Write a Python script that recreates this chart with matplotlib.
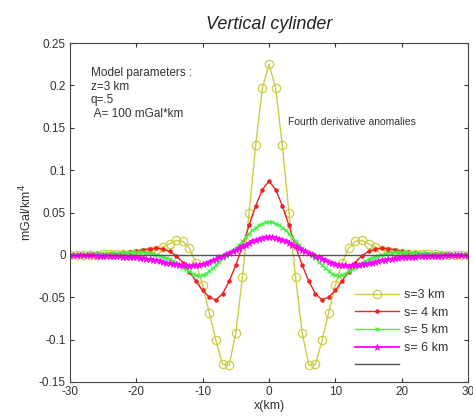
import numpy as np
import matplotlib
matplotlib.use("Agg")
import matplotlib.pyplot as plt

plt.rcParams['font.family'] = ['Liberation Sans', 'DejaVu Sans']

# sample positions (km)
x_coarse = np.arange(-30, 31, 1.0)
x_fine = np.arange(-30, 30.01, 0.5)

s3_values = [0.0001, 0.0002, 0.0002, 0.0003, 0.0004, 0.0005, 0.0006, 0.0008, 0.001, 0.0015,
             0.002, 0.003, 0.004, 0.006, 0.009, 0.013, 0.017, 0.016, 0.008, -0.010,
             -0.036, -0.068, -0.101, -0.129, -0.130, -0.092, -0.026, 0.050, 0.130, 0.197,
             0.225,
             0.197, 0.130, 0.050, -0.026, -0.092, -0.130, -0.129, -0.101, -0.068, -0.036,
             -0.010, 0.008, 0.016, 0.017, 0.013, 0.009, 0.006, 0.004, 0.003, 0.002,
             0.0015, 0.001, 0.0008, 0.0006, 0.0005, 0.0004, 0.0003, 0.0002, 0.0002, 0.0001]

s4_values = [0.0, 0.0001, 0.0002, 0.0003, 0.0005, 0.0008, 0.001, 0.0015, 0.002, 0.003,
             0.004, 0.006, 0.007, 0.008, 0.007, 0.004, -0.001, -0.009, -0.020, -0.031,
             -0.042, -0.050, -0.053, -0.046, -0.031, -0.012, 0.010, 0.035, 0.058, 0.077,
             0.087,
             0.077, 0.058, 0.035, 0.010, -0.012, -0.031, -0.046, -0.053, -0.050, -0.042,
             -0.031, -0.020, -0.009, -0.001, 0.004, 0.007, 0.008, 0.007, 0.006, 0.004,
             0.003, 0.002, 0.0015, 0.001, 0.0008, 0.0005, 0.0003, 0.0002, 0.0001, 0.0]

s5_values = [0.0002, 0.0003, 0.0003, 0.0004, 0.0004, 0.0005, 0.0006, 0.0007, 0.0008, 0.0009,
             0.001, 0.0012, 0.0015, 0.0017, 0.002, 0.002, 0.002, 0.0025, 0.003, 0.003,
             0.003, 0.003, 0.003, 0.0025, 0.002, 0.001, 0.000, -0.001, -0.002, -0.0035,
             -0.005, -0.0075, -0.010, -0.0125, -0.015, -0.017, -0.019, -0.022, -0.024, -0.0245,
             -0.024, -0.022, -0.019, -0.016, -0.012, -0.008, -0.004, -0.001, 0.002, 0.005,
             0.008, 0.012, 0.016, 0.021, 0.025, 0.029, 0.032, 0.035, 0.037, 0.0385,
             0.039,
             0.0385, 0.037, 0.035, 0.032, 0.029, 0.025, 0.021, 0.016, 0.012, 0.008,
             0.005, 0.002, -0.001, -0.004, -0.008, -0.012, -0.016, -0.019, -0.022, -0.024,
             -0.0245, -0.024, -0.022, -0.019, -0.017, -0.015, -0.0125, -0.010, -0.0075, -0.005,
             -0.0035, -0.002, -0.001, 0.000, 0.001, 0.002, 0.0025, 0.003, 0.003, 0.003,
             0.003, 0.003, 0.0025, 0.002, 0.002, 0.002, 0.0017, 0.0015, 0.0012, 0.001,
             0.0009, 0.0008, 0.0007, 0.0006, 0.0005, 0.0004, 0.0004, 0.0003, 0.0003, 0.0002]

s6_values = [-0.0003, -0.0004, -0.0004, -0.0005, -0.0005, -0.0006, -0.0006, -0.0007, -0.0008, -0.0009,
             -0.001, -0.0011, -0.0012, -0.0013, -0.0015, -0.0018, -0.002, -0.0022, -0.0025, -0.0028,
             -0.003, -0.0035, -0.004, -0.0045, -0.005, -0.0055, -0.006, -0.007, -0.008, -0.009,
             -0.010, -0.0105, -0.011, -0.0115, -0.012, -0.0125, -0.013, -0.0125, -0.012, -0.0115,
             -0.011, -0.0095, -0.008, -0.0065, -0.005, -0.003, -0.001, 0.0005, 0.002, 0.004,
             0.006, 0.008, 0.010, 0.012, 0.014, 0.016, 0.018, 0.019, 0.020, 0.0207,
             0.021,
             0.0207, 0.020, 0.019, 0.018, 0.016, 0.014, 0.012, 0.010, 0.008, 0.006,
             0.004, 0.002, 0.0005, -0.001, -0.003, -0.005, -0.0065, -0.008, -0.0095, -0.011,
             -0.0115, -0.012, -0.0125, -0.013, -0.0125, -0.012, -0.0115, -0.011, -0.0105, -0.010,
             -0.009, -0.008, -0.007, -0.006, -0.0055, -0.005, -0.0045, -0.004, -0.0035, -0.003,
             -0.0028, -0.0025, -0.0022, -0.002, -0.0018, -0.0015, -0.0013, -0.0012, -0.0011, -0.001,
             -0.0009, -0.0008, -0.0007, -0.0006, -0.0006, -0.0005, -0.0005, -0.0004, -0.0004, -0.0003]

baseline_x = [-30, 30]
baseline_y = [0, 0]

labels = ['s=3 km', 's= 4 km', 's= 5 km', 's= 6 km', ' ']
x_ticks = [-30, -20, -10, 0, 10, 20, 30]
x_ticklabels = ['-30', '-20', '-10', '0', '10', '20', '30']
y_ticks = [-0.15, -0.1, -0.05, 0, 0.05, 0.1, 0.15, 0.2, 0.25]
y_ticklabels = ['-0.15', '-0.1', '-0.05', '0', '0.05', '0.1', '0.15', '0.2', '0.25']

fig = plt.figure(figsize=(4.73, 4.16), dpi=100)
ax = fig.add_axes([70/473, 34/416, 398/473, 339/416])

c_y = '#cccc44'
c_r = '#ee2222'
c_g = '#44ee44'
c_m = '#ff00ff'

ax.plot(x_coarse, s3_values, color=c_y, lw=1.0, marker='o', ms=6,
        mfc='none', mec=c_y, mew=0.9, label=labels[0])
ax.plot(x_coarse, s4_values, color=c_r, lw=1.0, marker='.', ms=4.5,
        label=labels[1])
ax.plot(x_fine, s5_values, color=c_g, lw=1.0, marker='x', ms=3.5, mew=0.8,
        label=labels[2])
ax.plot(x_fine, s6_values, color=c_m, lw=1.3, marker='*', ms=4.5, mew=0.6,
        label=labels[3])
ax.plot(baseline_x, baseline_y, color='#555555', lw=1.0, label=labels[4])

ax.set_xlim(-30, 30)
ax.set_ylim(-0.15, 0.25)
ax.set_xticks(x_ticks)
ax.set_xticklabels(x_ticklabels)
ax.set_yticks(y_ticks)
ax.set_yticklabels(y_ticklabels)
ax.tick_params(direction='in', top=True, right=True, length=3, width=0.8,
               labelsize=8.5, colors='#333333', labelcolor='#333333', pad=3)
for sp in ax.spines.values():
    sp.set_color('#444444')
    sp.set_linewidth(0.8)

ax.set_title('Vertical cylinder', fontsize=13, style='italic', color='#222222', pad=10)
ax.set_xlabel('x(km)', fontsize=9, color='#333333', labelpad=1)
ax.set_ylabel('mGal/km$^4$', fontsize=9, color='#333333', labelpad=3)

ax.text(-26.9, 0.2215, 'Model parameters :\nz=3 km\nq=.5\n A= 100 mGal*km',
        fontsize=8.5, color='#333333', va='top', ha='left', linespacing=1.17)
ax.text(2.8, 0.157, 'Fourth derivative anomalies', fontsize=7.5,
        color='#333333', va='center', ha='left')

leg = ax.legend(loc='upper left', bbox_to_anchor=((355 - 70) / 398, (382 - 289) / 339),
                frameon=False, fontsize=9, handlelength=3.5, handletextpad=0.4,
                labelspacing=0.45, borderaxespad=0, borderpad=0, numpoints=1)
for t in leg.get_texts():
    t.set_color('#333333')

fig.savefig('out.png', dpi=100)
